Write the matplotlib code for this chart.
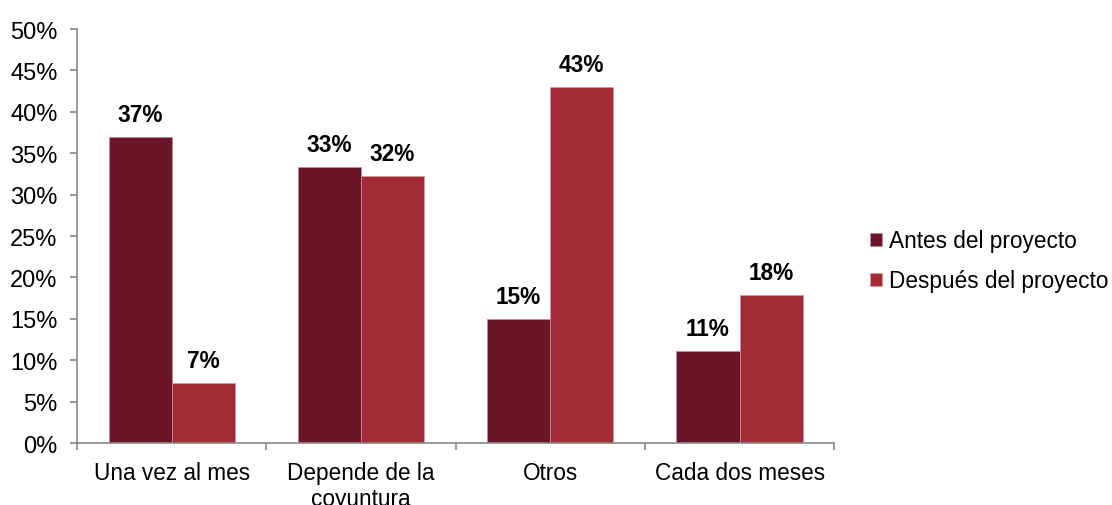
import numpy as np
import matplotlib
matplotlib.use('Agg')
import matplotlib.pyplot as plt

plt.rcParams['font.family'] = ['Liberation Sans', 'DejaVu Sans']

categories = ["Una vez al mes", "Depende de la\ncoyuntura", "Otros", "Cada dos meses"]
antes = [37.0, 33.3, 15.0, 11.1]
despues = [7.2, 32.2, 43.0, 17.9]
series_names = ["Antes del proyecto", "Después del proyecto"]
colors = ["#6B1528", "#A22B35"]

fig = plt.figure(figsize=(11.12, 5.06), dpi=100)
ax = fig.add_axes([0.0692, 0.1225, 0.681, 0.818])

x = np.arange(len(categories))
w = 1 / 3
bars1 = ax.bar(x - w / 2, antes, w, color=colors[0], edgecolor="#c98a90", linewidth=0.4, label=series_names[0])
bars2 = ax.bar(x + w / 2, despues, w, color=colors[1], edgecolor="#d79a9f", linewidth=0.4, label=series_names[1])

for bars, vals in [(bars1, antes), (bars2, despues)]:
    for b, v in zip(bars, vals):
        ax.annotate(f"{v:.0f}%", (b.get_x() + b.get_width() / 2, v),
                    xytext=(0, 8), textcoords="offset points",
                    ha="center", va="bottom", fontsize=16.3, fontweight="bold")

ax.set_xlim(-0.5, len(categories) - 0.5)
ax.set_ylim(0, 50)
ax.set_yticks(np.arange(0, 51, 5))
ax.set_yticklabels([f"{t}%" for t in range(0, 51, 5)])
ax.set_xticks(x)
ax.set_xticklabels(categories, linespacing=1.15)
ax.set_xticks(np.arange(-0.5, len(categories), 1), minor=True)

ax.tick_params(axis="x", which="major", length=0, labelsize=16.3, pad=13)
ax.tick_params(axis="x", which="minor", length=5, color="#888888", width=1.2)
ax.tick_params(axis="y", length=5, color="#888888", width=1.2, labelsize=17, pad=9)

for s in ["top", "right"]:
    ax.spines[s].set_visible(False)
for s in ["left", "bottom"]:
    ax.spines[s].set_color("#888888")
    ax.spines[s].set_linewidth(1.2)

ax.legend(loc="center left", bbox_to_anchor=(1.02, 0.44), frameon=False, fontsize=16.3,
          handlelength=0.55, handleheight=0.55, handletextpad=0.3, labelspacing=0.75)

fig.savefig("out.png", dpi=100)
